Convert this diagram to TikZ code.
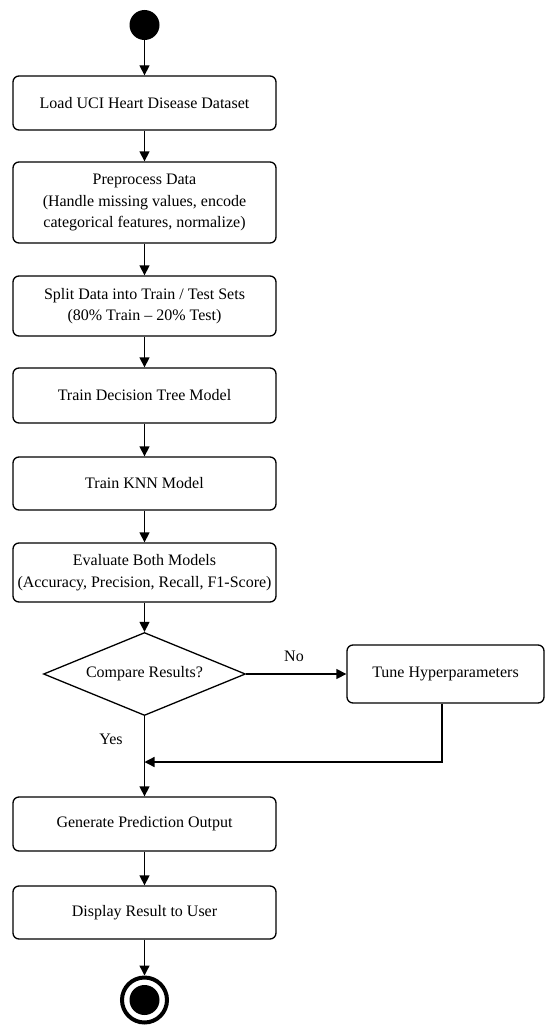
\documentclass[tikz,border=0pt]{standalone}
\usepackage{fontspec}
\setmainfont{Liberation Serif}
\usetikzlibrary{shapes.geometric,arrows.meta}
\tikzset{
  stepbox/.style={draw, line width=1.3pt, rounded corners=6pt, minimum width=263pt, align=center, font=\fontsize{16}{21.5}\selectfont, inner sep=0pt},
  flow/.style={line width=1.3pt, -{Triangle[length=10pt,width=10pt]}},
  lbl/.style={font=\fontsize{16}{21.5}\selectfont, inner sep=0pt}
}
\begin{document}
\begin{tikzpicture}[x=1pt,y=-1pt]
\useasboundingbox (0,0) rectangle (545,1025);
\node[circle, fill=black, minimum size=30pt, inner sep=0pt] (start) at (144.5,25) {};
\node[stepbox, minimum height=54pt] (b1) at (144.5,103) {Load UCI Heart Disease Dataset};
\node[stepbox, minimum height=81pt] (b2) at (144.5,202.5) {Preprocess Data\\(Handle missing values, encode\\categorical features, normalize)};
\node[stepbox, minimum height=60pt] (b3) at (144.5,306) {Split Data into Train / Test Sets\\(80\% Train -- 20\% Test)};
\node[stepbox, minimum height=55pt] (b4) at (144.5,395.5) {Train Decision Tree Model};
\node[stepbox, minimum height=53pt] (b5) at (144.5,483.5) {Train KNN Model};
\node[stepbox, minimum height=59pt] (b6) at (144.5,572.5) {Evaluate Both Models\\(Accuracy, Precision, Recall, F1-Score)};
\node[draw, diamond, line width=1.3pt, shape aspect=2.43, inner sep=0pt, minimum width=202pt, minimum height=83pt, font=\fontsize{16}{21.5}\selectfont] (dec) at (144.5,674) {Compare Results?};
\node[stepbox, minimum width=197pt, minimum height=58pt] (tune) at (445.5,674) {Tune Hyperparameters};
\node[stepbox, minimum height=54pt] (b7) at (144.5,824) {Generate Prediction Output};
\node[stepbox, minimum height=53pt] (b8) at (144.5,912.5) {Display Result to User};
\node[circle, draw, line width=4pt, minimum size=45pt, inner sep=0pt] (stop) at (144.5,1000) {};
\fill (stop.center) circle (15pt);
\node[lbl] (no) at (294,656) {No};
\node[lbl] (yes) at (111,739) {Yes};
\coordinate (merge) at (144.5,762);
\coordinate (turn) at (442,762);
\draw[flow] (start) -- (b1);
\draw[flow] (b1) -- (b2);
\draw[flow] (b2) -- (b3);
\draw[flow] (b3) -- (b4);
\draw[flow] (b4) -- (b5);
\draw[flow] (b5) -- (b6);
\draw[flow] (b6) -- (dec);
\draw[flow] (dec) -- (tune);
\draw[flow] (dec) -- (b7);
\draw[flow] (tune.south -| turn) -- (turn) -- (merge);
\draw[flow] (b7) -- (b8);
\draw[flow] (b8) -- (stop);
\end{tikzpicture}
\end{document}
